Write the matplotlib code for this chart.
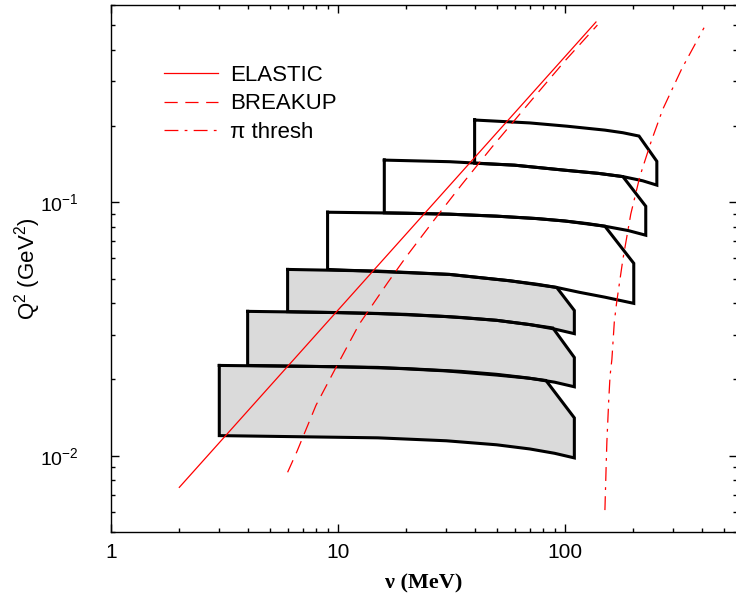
import numpy as np
import matplotlib
matplotlib.use('Agg')
import matplotlib.pyplot as plt
from matplotlib.ticker import NullFormatter, LogLocator

plt.rcParams['font.family'] = ['Liberation Sans', 'DejaVu Sans']
plt.rcParams['mathtext.fontset'] = 'custom'
plt.rcParams['mathtext.rm'] = 'Liberation Sans'
plt.rcParams['mathtext.it'] = 'Liberation Sans:italic'
plt.rcParams['mathtext.bf'] = 'Liberation Sans:bold'
plt.rcParams['lines.scale_dashes'] = False

# kinematic coverage regions: (nu in MeV, Q^2 in GeV^2), outline going
# top-left -> along top -> corner -> right edge -> back along bottom
box_a_nu = [3, 10, 20, 35, 50, 65, 82.5, 110, 110, 90, 70, 50, 30, 15, 3]
box_a_q2 = [0.0227, 0.02244, 0.02206, 0.0215, 0.02094, 0.02038, 0.0198, 0.0141,
            0.0098, 0.01022, 0.01063, 0.01104, 0.01145, 0.01176, 0.0120]

box_b_nu = [4, 10, 20, 35, 50, 70, 88.5, 110, 110, 90, 70, 50, 30, 15, 4]
box_b_q2 = [0.0371, 0.0367, 0.0361, 0.0351, 0.0342, 0.0329, 0.0319, 0.0244,
            0.0187, 0.0195, 0.0202, 0.0208, 0.0216, 0.0223, 0.0227]

box_c_nu = [6, 15, 31, 57, 75, 92, 110, 110, 90, 70, 50, 30, 15, 6]
box_c_q2 = [0.0543, 0.0535, 0.0519, 0.0490, 0.0475, 0.0461, 0.0374,
            0.0303, 0.0316, 0.0329, 0.0342, 0.0354, 0.0364, 0.0370]

box_d_nu = [9, 20, 31, 50, 75, 100, 125, 150, 201, 201, 150, 116, 92, 57, 31, 9]
box_d_q2 = [0.0913, 0.0905, 0.0897, 0.0881, 0.0862, 0.0843, 0.0824, 0.0804, 0.0574,
            0.0399, 0.0422, 0.0441, 0.0461, 0.0490, 0.0519, 0.0543]

box_e_nu = [16, 31, 60, 102, 140, 180, 227, 227, 190, 150, 100, 75, 50, 31, 16]
box_e_q2 = [0.1466, 0.1445, 0.1400, 0.1335, 0.1300, 0.1262, 0.0964,
            0.0741, 0.0773, 0.0804, 0.0843, 0.0862, 0.0881, 0.0897, 0.0908]

box_f_nu = [40, 70, 102, 150, 180, 212, 254, 254, 220, 180, 140, 102, 60, 40]
box_f_q2 = [0.211, 0.2055, 0.1995, 0.1925, 0.188, 0.1824, 0.145,
            0.1168, 0.1215, 0.1262, 0.1300, 0.1335, 0.1400, 0.1425]

gray_boxes = [(box_a_nu, box_a_q2), (box_b_nu, box_b_q2), (box_c_nu, box_c_q2)]
open_boxes = [(box_d_nu, box_d_q2), (box_e_nu, box_e_q2), (box_f_nu, box_f_q2)]

# threshold lines
elastic_nu = [2, 137]
elastic_q2 = [0.0075, 0.514]

breakup_nu = [6.0, 6.6, 8, 9.7, 12.4, 16.6, 20, 27.3, 35, 47.7, 70, 100, 139]
breakup_q2 = [0.0086, 0.0104, 0.0158, 0.0219, 0.033, 0.0483, 0.061, 0.088,
              0.117, 0.165, 0.248, 0.361, 0.50]

pion_nu = [150, 152, 153, 156, 158, 161, 165, 169, 180, 195, 214, 240, 270, 327, 410]
pion_q2 = [0.0061, 0.0093, 0.0113, 0.0167, 0.0206, 0.024, 0.0337, 0.0403, 0.0595,
           0.0898, 0.1267, 0.174, 0.233, 0.336, 0.488]

fig = plt.figure(figsize=(7.36, 5.93), dpi=100)
ax = fig.add_axes([0.1508, 0.1029, 0.8506, 0.8887])
ax.set_xscale('log')
ax.set_yscale('log')
ax.set_xlim(1, 573)
ax.set_ylim(0.005, 0.6)

for nu, q2 in gray_boxes:
    ax.fill(nu, q2, facecolor='#dadada', edgecolor='none', zorder=1)
for nu, q2 in gray_boxes + open_boxes:
    ax.plot(nu + nu[:1], q2 + q2[:1], color='black', lw=2.2, zorder=2,
            solid_joinstyle='miter')

ax.plot(elastic_nu, elastic_q2, color='red', lw=0.9, zorder=3, label='ELASTIC')
ax.plot(breakup_nu, breakup_q2, color='red', lw=0.9, zorder=3, dashes=[9.5, 5.5],
        label='BREAKUP')
ax.plot(pion_nu, pion_q2, color='red', lw=0.9, zorder=3, dashes=[10, 4.5, 2, 4.5],
        label='π thresh')

ax.legend(loc='upper left', bbox_to_anchor=(0.0847, 0.886), frameon=False,
          fontsize=16, handlelength=2.43, handletextpad=0.55, labelspacing=0.33,
          borderpad=0, borderaxespad=0)

ax.set_xticks([1, 10, 100])
ax.set_xticklabels(['1', '10', '100'])
ax.set_yticks([0.01, 0.1])
ax.set_yticklabels(['$10^{-2}$', '$10^{-1}$'])
ax.xaxis.set_minor_locator(LogLocator(base=10, subs=np.arange(2, 10)))
ax.yaxis.set_minor_locator(LogLocator(base=10, subs=np.arange(2, 10)))
ax.xaxis.set_minor_formatter(NullFormatter())
ax.yaxis.set_minor_formatter(NullFormatter())

ax.tick_params(which='both', direction='in', top=True, right=True, width=1)
ax.tick_params(which='major', length=6)
ax.tick_params(which='minor', length=3)
ax.tick_params(axis='x', which='major', pad=8, labelsize=15)
ax.tick_params(axis='y', which='major', pad=23, labelsize=14)
for s in ax.spines.values():
    s.set_linewidth(1)

ax.set_xlabel('ν (MeV)', fontfamily='Liberation Serif', fontweight='bold', fontsize=16)
ax.xaxis.set_label_coords(0.5, -0.078)
ax.set_ylabel('Q$^2$ (GeV$^2$)', fontsize=16)
ax.yaxis.set_label_coords(-0.108, 0.5)

plt.savefig('out.png', dpi=100)
